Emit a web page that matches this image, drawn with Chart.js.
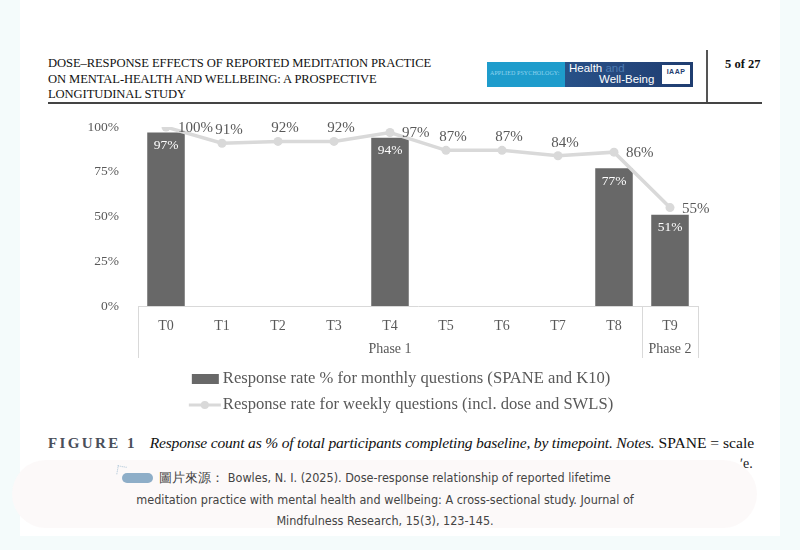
<!DOCTYPE html>
<html>
<head>
<meta charset="utf-8">
<script src="https://cdn.jsdelivr.net/npm/chart.js@4.4.1/dist/chart.umd.min.js"></script>
<style>
  html, body { margin: 0; padding: 0; }
  body { width: 800px; height: 550px; background: #f4fbfb; position: relative; overflow: hidden; font-family: 'Liberation Serif', serif; }
  #page { position: absolute; left: 20px; top: 0; width: 760px; height: 536px; background: #ffffff; }
  .abs { position: absolute; }
  #title { left: 48px; top: 56px; font-size: 12.6px; line-height: 15.5px; color: #111; letter-spacing: -0.1px; white-space: nowrap; }
  #pageno { left: 725px; top: 57px; font-size: 12.5px; font-weight: bold; color: #111; }
  #vrule { left: 706px; top: 50px; width: 1.5px; height: 53px; background: #555; }
  #hrule { left: 48px; top: 102px; width: 714px; height: 1.5px; background: #444; }
  #logo { left: 487px; top: 62px; width: 206px; height: 25px; background: linear-gradient(90deg, #2c5e95, #24467c 70%, #1f3d70); overflow: hidden; }
  #logo .l { position: absolute; left: 0; top: 0; width: 78px; height: 25px; background: #1e9ccc; }
  #logo .l span { position: absolute; left: 3px; top: 8px; font-size: 6px; color: #8fd3ee; white-space: nowrap; letter-spacing: 0.1px; }
  #logo .h { position: absolute; left: 82px; top: 0px; font-family: 'Liberation Sans', sans-serif; font-size: 11.5px; color: #fff; white-space: nowrap; }
  #logo .h i { font-style: normal; color: #4d7bb2; }
  #logo .w { position: absolute; left: 112px; top: 11px; font-family: 'Liberation Sans', sans-serif; font-size: 11.5px; color: #fff; white-space: nowrap; }
  #logo .iaap { position: absolute; left: 175px; top: 3px; width: 28px; height: 19px; background: #fff; font-family: 'Liberation Sans', sans-serif; font-size: 7px; font-weight: bold; color: #1f3d70; text-align: center; line-height: 14px; letter-spacing: 0.5px; }
  #chartbox { left: 0; top: 108px; width: 800px; height: 320px; }
  #caption { left: 48px; top: 434px; font-size: 15.6px; color: #111; white-space: nowrap; }
  #caption b { font-family: 'Liberation Serif', serif; letter-spacing: 2.4px; color: #4a4f5a; margin-right: 9px; font-size: 15px; }
  #caption i { letter-spacing: -0.2px; }
  #frag { left: 740px; top: 456px; font-size: 14px; color: #222; }
  #overlay { left: 12px; top: 460px; width: 745px; height: 68px; border-radius: 34px; background: rgba(252, 249, 249, 0.93); }
  #source { left: 60px; top: 467px; width: 650px; text-align: center; font-family: 'Liberation Sans Narrow', 'DejaVu Sans Condensed', sans-serif; font-size: 12.5px; line-height: 21.5px; color: #444; }
  #blob { left: 122px; top: 473px; width: 31px; height: 10px; border-radius: 5px; background: #8eaec8; }
  #spark { left: 117px; top: 466px; width: 8px; height: 8px; border-top: 1px dotted #a9c3d6; border-left: 1px dotted #a9c3d6; transform: rotate(10deg); }
</style>
</head>
<body>
<div id="page"></div>
<div class="abs" id="title">DOSE–RESPONSE EFFECTS OF REPORTED MEDITATION PRACTICE<br>ON MENTAL-HEALTH AND WELLBEING: A PROSPECTIVE<br>LONGITUDINAL STUDY</div>
<div class="abs" id="logo"><div class="l"><span>APPLIED PSYCHOLOGY:</span></div><div class="h">Health <i>and</i></div><div class="w">Well-Being</div><div class="iaap">IAAP</div></div>
<div class="abs" id="vrule"></div>
<div class="abs" id="pageno">5 of 27</div>
<div class="abs" id="hrule"></div>
<div class="abs" id="chartbox"><canvas id="c"></canvas></div>
<div class="abs" id="caption"><b>FIGURE 1</b> <i>Response count as % of total participants completing baseline, by timepoint. Notes.</i> SPANE = scale</div>
<div class="abs" id="frag">ʹe.</div>
<div class="abs" id="overlay"></div>
<div class="abs" id="spark"></div>
<div class="abs" id="blob"></div>
<div class="abs" id="source">圖片來源： Bowles, N. I. (2025). Dose-response relationship of reported lifetime<br>meditation practice with mental health and wellbeing: A cross-sectional study. Journal of<br>Mindfulness Research, 15(3), 123-145.</div>
<script>
// ---- data ----
const categories = ['T0', 'T1', 'T2', 'T3', 'T4', 'T5', 'T6', 'T7', 'T8', 'T9'];
const categoryPhase = ['Phase 1', 'Phase 1', 'Phase 1', 'Phase 1', 'Phase 1', 'Phase 1', 'Phase 1', 'Phase 1', 'Phase 1', 'Phase 2'];
const monthlyRate = [97, null, null, null, 94, null, null, null, 77, 51];
const weeklyRate = [100, 91, 92, 92, 97, 87, 87, 84, 86, 55];
const yTickValues = [0, 25, 50, 75, 100];
const monthlyLabel = 'Response rate % for monthly questions (SPANE and K10)';
const weeklyLabel = 'Response rate for weekly questions (incl. dose and SWLS)';

const BAR = '#686868', LINE = '#d9d9d9', TEXT = '#595959', AXIS = '#d9d9d9';
Chart.defaults.font.family = "'Liberation Serif', 'Times New Roman', serif";

const labelsPlugin = {
  id: 'valueLabels',
  afterDatasetsDraw(chart) {
    const ctx = chart.ctx;
    ctx.save();
    ctx.textBaseline = 'middle';
    const barMeta = chart.getDatasetMeta(1);
    ctx.font = "13.5px 'Liberation Serif'";
    ctx.fillStyle = '#ffffff';
    ctx.textAlign = 'center';
    barMeta.data.forEach((el, i) => {
      if (monthlyRate[i] == null) return;
      ctx.fillText(monthlyRate[i] + '%', el.x, el.y + 13);
    });
    const lineMeta = chart.getDatasetMeta(0);
    ctx.font = "15px 'Liberation Serif'";
    ctx.fillStyle = TEXT;
    lineMeta.data.forEach((el, i) => {
      const t = weeklyRate[i] + '%';
      if (monthlyRate[i] != null) {
        ctx.textAlign = 'left';
        ctx.fillText(t, el.x + 12, el.y + 1);
      } else {
        ctx.textAlign = 'center';
        ctx.fillText(t, el.x + 7, el.y - 13);
      }
    });
    ctx.restore();
  }
};

const groupAxisPlugin = {
  id: 'groupAxis',
  afterDraw(chart) {
    const ctx = chart.ctx, x = chart.scales.x, area = chart.chartArea;
    const half = (x.getPixelForValue(1) - x.getPixelForValue(0)) / 2;
    ctx.save();
    ctx.strokeStyle = AXIS;
    ctx.lineWidth = 1;
    const top = area.bottom, bottom = area.bottom + 52;
    let start = 0;
    const bounds = [];
    for (let i = 1; i <= categories.length; i++) {
      if (i === categories.length || categoryPhase[i] !== categoryPhase[start]) {
        bounds.push({ name: categoryPhase[start], from: x.getPixelForValue(start) - half, to: x.getPixelForValue(i - 1) + half });
        start = i;
      }
    }
    const xs = new Set();
    bounds.forEach(b => { xs.add(Math.round(b.from) + 0.5); xs.add(Math.round(b.to) + 0.5); });
    xs.forEach(px => { ctx.beginPath(); ctx.moveTo(px, top); ctx.lineTo(px, bottom); ctx.stroke(); });
    ctx.fillStyle = TEXT;
    ctx.font = "14px 'Liberation Serif'";
    ctx.textAlign = 'center';
    ctx.textBaseline = 'middle';
    bounds.forEach(b => ctx.fillText(b.name, (b.from + b.to) / 2, area.bottom + 43));
    ctx.restore();
  }
};

const legendPlugin = {
  id: 'customLegend',
  afterDraw(chart) {
    const ctx = chart.ctx, area = chart.chartArea;
    ctx.save();
    ctx.font = "16.6px 'Liberation Serif'";
    const items = [chart.data.datasets[1], chart.data.datasets[0]];
    const maxW = Math.max(...items.map(d => ctx.measureText(d.label).width));
    const iconW = 34;
    const startX = (chart.width - (iconW + maxW)) / 2 + 1;
    const textX = startX + iconW;
    ctx.textBaseline = 'middle';
    ctx.textAlign = 'left';
    // bar item
    let y = area.bottom + 73;
    ctx.fillStyle = BAR;
    ctx.fillRect(textX - 31, y - 5, 27, 10);
    ctx.fillStyle = TEXT;
    ctx.fillText(items[0].label, textX, y);
    // line item
    y = area.bottom + 99;
    ctx.strokeStyle = LINE;
    ctx.lineWidth = 3;
    ctx.beginPath(); ctx.moveTo(textX - 34, y); ctx.lineTo(textX - 2, y); ctx.stroke();
    ctx.fillStyle = LINE;
    ctx.beginPath(); ctx.arc(textX - 18, y, 4, 0, Math.PI * 2); ctx.fill();
    ctx.fillStyle = TEXT;
    ctx.fillText(items[1].label, textX, y);
    ctx.restore();
  }
};

new Chart(document.getElementById('c'), {
  type: 'bar',
  data: {
    labels: categories,
    datasets: [
      {
        type: 'line', label: weeklyLabel, data: weeklyRate, order: 0,
        borderColor: LINE, backgroundColor: LINE, borderWidth: 3.5,
        pointRadius: 4.5, pointBackgroundColor: LINE, pointBorderWidth: 0, tension: 0
      },
      {
        type: 'bar', label: monthlyLabel, data: monthlyRate, order: 1,
        backgroundColor: BAR, borderWidth: 0,
        categoryPercentage: 1, barPercentage: 0.67
      }
    ]
  },
  options: {
    responsive: true,
    maintainAspectRatio: false,
    animation: false,
    layout: { padding: { left: 88, right: 102, top: 19, bottom: 62 } },
    plugins: { legend: { display: false }, tooltip: { enabled: false } },
    scales: {
      x: {
        offset: true,
        grid: { display: false },
        border: { display: true, color: AXIS, width: 1 },
        ticks: { color: TEXT, font: { size: 14 }, padding: 4 },
        afterFit(s) { s.height = 60; }
      },
      y: {
        min: 0, max: 100,
        grid: { display: false },
        border: { display: false },
        ticks: { color: TEXT, font: { size: 13.5 }, padding: 11, callback: v => v + '%' },
        afterBuildTicks(s) { s.ticks = yTickValues.map(v => ({ value: v })); },
        afterFit(s) { s.width = 50; }
      }
    }
  },
  plugins: [labelsPlugin, groupAxisPlugin, legendPlugin]
});
</script>
</body>
</html>
